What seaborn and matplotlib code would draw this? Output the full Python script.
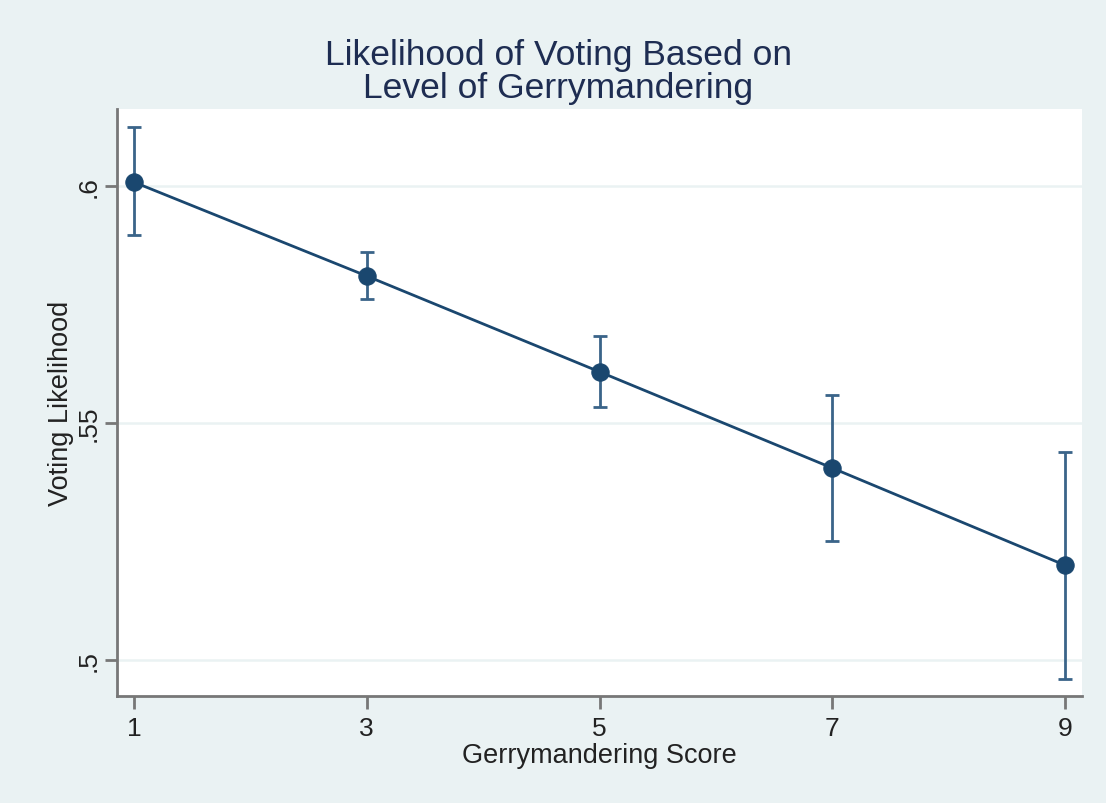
import pandas as pd
import matplotlib.pyplot as plt
import seaborn as sns

# values
scores = [1, 3, 5, 7, 9]
likelihood = [0.6008, 0.5810, 0.5608, 0.5405, 0.5200]
ci_low = [0.5897, 0.5762, 0.5534, 0.5251, 0.4960]
ci_high = [0.6124, 0.5861, 0.5684, 0.5559, 0.5439]

df = pd.DataFrame({'score': scores, 'likelihood': likelihood,
                   'lo': ci_low, 'hi': ci_high})

sns.set_style('white')
plt.rcParams['font.family'] = ['Liberation Sans', 'DejaVu Sans']

navy = '#1a476f'
bg = '#eaf2f3'

fig = plt.figure(figsize=(11.06, 8.04), dpi=100, facecolor=bg)
ax = fig.add_axes([0.1058, 0.133, 0.8725, 0.73])
ax.set_facecolor('white')

# confidence intervals
ax.errorbar(df['score'], df['likelihood'],
            yerr=[df['likelihood'] - df['lo'], df['hi'] - df['likelihood']],
            fmt='none', ecolor='#3a6489', elinewidth=2, capsize=5, capthick=2, zorder=2)

sns.lineplot(data=df, x='score', y='likelihood', ax=ax, color=navy,
             linewidth=2, marker='o', markersize=12.5, markeredgecolor=navy, zorder=3)

ax.set_xlim(0.854, 9.146)
ax.set_ylim(0.4924, 0.6162)
ax.set_xticks(scores)
ax.set_yticks([0.5, 0.55, 0.6])
ax.set_yticklabels(['.5', '.55', '.6'], rotation=90, va='center')
ax.grid(axis='y', color=bg, linewidth=1.8)
ax.set_axisbelow(True)

for s in ['top', 'right']:
    ax.spines[s].set_visible(False)
for s in ['left', 'bottom']:
    ax.spines[s].set_color('#777777')
    ax.spines[s].set_linewidth(2)
ax.tick_params(axis='both', which='major', length=9, width=2, color='#777777',
               labelsize=19, labelcolor='#222222', pad=5, direction='out',
               left=True, bottom=True)
ax.tick_params(axis='y', pad=3)

ax.set_xlabel('Gerrymandering Score', fontsize=19.5, color='#222222', labelpad=2)
ax.set_ylabel('Voting Likelihood', fontsize=19.5, color='#222222', labelpad=2)
fig.suptitle('Likelihood of Voting Based on\nLevel of Gerrymandering',
             x=0.505, y=0.952, fontsize=25.5, color='#1e2d52', linespacing=1.0)

fig.savefig('out.png', dpi=100, facecolor=bg)
